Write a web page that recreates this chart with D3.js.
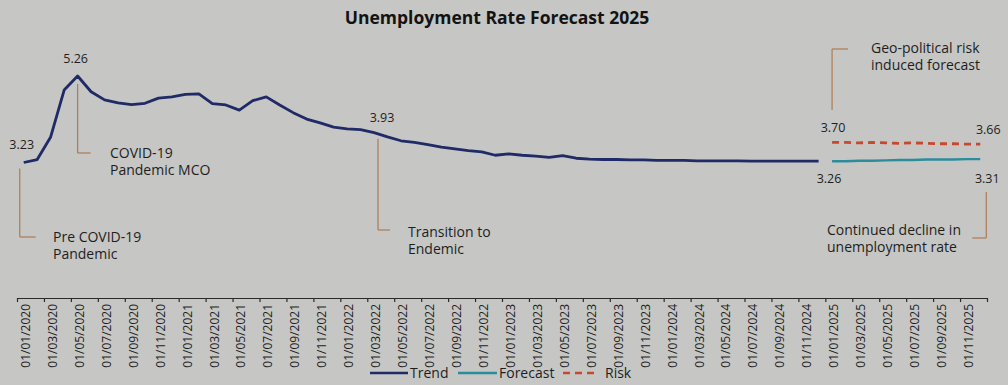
<!DOCTYPE html><html><head>
<title>Unemployment Rate Forecast 2025</title>
<style>
  body { margin:0; background:#c6c6c4; }
  svg { display:block; font-family:"Open Sans", sans-serif; }
  .tittle { font-size:17.5px; font-weight:700; fill:#131313; }
  .note { font-size:14px; fill:#1e1e1e; }
  .val { font-size:12.5px; fill:#1e1e1e; }
  .tick-lab { font-size:12px; fill:#1e1e1e; }
</style>
</head>
<body>
<svg width="1008" height="385"></svg>
<script src="https://d3js.org/d3.v7.min.js"></script>
<script>
// monthly unemployment rate, Jan 2020 - Dec 2024
var trendValues = [3.23, 3.30, 3.83, 4.93, 5.26, 4.89, 4.70, 4.63, 4.59, 4.62, 4.74, 4.77,
                   4.83, 4.84, 4.61, 4.58, 4.46, 4.68, 4.77, 4.58, 4.40, 4.25, 4.16, 4.06,
                   4.02, 4.00, 3.93, 3.83, 3.74, 3.70, 3.65, 3.59, 3.55, 3.51, 3.48, 3.40,
                   3.43, 3.40, 3.38, 3.35, 3.39, 3.33, 3.31, 3.30, 3.30, 3.29, 3.29, 3.28,
                   3.28, 3.28, 3.27, 3.27, 3.27, 3.27, 3.26, 3.26, 3.26, 3.26, 3.26, 3.26];
// Jan 2025 - Dec 2025
var forecastValues = [3.26, 3.26, 3.27, 3.27, 3.28, 3.29, 3.29, 3.30, 3.30, 3.30, 3.31, 3.31];
var riskValues = [3.70, 3.70, 3.69, 3.70, 3.69, 3.68, 3.69, 3.68, 3.67, 3.67, 3.66, 3.66];

var tickLabels = ["01/01/2020","01/03/2020","01/05/2020","01/07/2020","01/09/2020","01/11/2020",
                  "01/01/2021","01/03/2021","01/05/2021","01/07/2021","01/09/2021","01/11/2021",
                  "01/01/2022","01/03/2022","01/05/2022","01/07/2022","01/09/2022","01/11/2022",
                  "01/01/2023","01/03/2023","01/05/2023","01/07/2023","01/09/2023","01/11/2023",
                  "01/01/2024","01/03/2024","01/05/2024","01/07/2024","01/09/2024","01/11/2024",
                  "01/01/2025","01/03/2025","01/05/2025","01/07/2025","01/09/2025","01/11/2025"];

const svg = d3.select("svg");
var nMonths = trendValues.length + forecastValues.length;

var x = d3.scaleBand().domain(d3.range(nMonths)).range([17, 987]);
var xEdge = d3.scaleLinear().domain([0, nMonths]).range([17, 987]);
var y = d3.scaleLinear().domain([3.23, 5.26]).range([162.5, 76]);
function cx(i) { return x(i) + x.bandwidth() / 2; }

var line = d3.line()
  .x(function(d) { return cx(d[0]); })
  .y(function(d) { return y(d[1]); });

var trend = trendValues.map(function(v, i) { return [i, v]; });
var off = trendValues.length;
var forecast = forecastValues.map(function(v, i) { return [i + off, v]; });
var risk = riskValues.map(function(v, i) { return [i + off, v]; });

// title
svg.append("text").attr("class", "tittle")
  .attr("x", 497).attr("y", 24).attr("text-anchor", "middle")
  .text("Unemployment Rate Forecast 2025");

// annotation leader lines
var lead = "#b07b50";
function leader(px, y1, y2, hx, hy) {
  svg.append("line").attr("x1", px).attr("x2", px).attr("y1", y1).attr("y2", y2)
    .attr("stroke", lead).attr("stroke-width", 1.2);
  svg.append("line").attr("x1", px).attr("x2", hx).attr("y1", hy).attr("y2", hy)
    .attr("stroke", lead).attr("stroke-width", 1.2);
}
leader(cx(0) - 4, y(trendValues[0]) + 6, 237, cx(0) + 12, 237);
leader(cx(4), y(trendValues[4]) + 8, 153, cx(4) + 13, 153);
leader(cx(26) + 4, y(trendValues[26]) + 6, 230, cx(26) + 16, 230);
leader(cx(off), 49, 110, cx(off) + 16, 49);
leader(cx(nMonths - 1) + 6, 192, 238, cx(nMonths - 1) - 8, 238);

// lines
svg.append("path").datum(trend)
  .attr("fill", "none").attr("stroke", "#1f2a66").attr("stroke-width", 2.8)
  .attr("stroke-linejoin", "round").attr("d", line);
svg.append("path").datum(forecast)
  .attr("fill", "none").attr("stroke", "#2b8c9c").attr("stroke-width", 2.4)
  .attr("d", line);
svg.append("path").datum(risk)
  .attr("fill", "none").attr("stroke", "#c9472e").attr("stroke-width", 2.8)
  .attr("stroke-dasharray", "7,5").attr("d", line);

// value labels
function val(v, px, py) {
  svg.append("text").attr("class", "val").attr("x", px).attr("y", py)
    .attr("text-anchor", "middle").text(v.toFixed(2));
}
val(trendValues[0], cx(0) - 2, y(trendValues[0]) - 14);
val(trendValues[4], cx(4) - 2, y(trendValues[4]) - 13);
val(trendValues[26], cx(26) + 8, y(trendValues[26]) - 11);
val(riskValues[0], cx(off) + 1, y(riskValues[0]) - 10);
val(riskValues[11], cx(nMonths - 1) + 8, y(riskValues[11]) - 10);
val(forecastValues[0], cx(off) - 3, y(forecastValues[0]) + 22);
val(forecastValues[11], cx(nMonths - 1) + 7, y(forecastValues[11]) + 24);

// notes
function note(lines, px, py) {
  var t = svg.append("text").attr("class", "note").attr("x", px).attr("y", py);
  lines.forEach(function(s, i) {
    t.append("tspan").attr("x", px).attr("dy", i == 0 ? 0 : 17).text(s);
  });
}
note(["Pre COVID-19", "Pandemic"], 53, 242);
note(["COVID-19", "Pandemic MCO"], 110, 158);
note(["Transition to", "Endemic"], 408, 237);
note(["Geo-political risk", "induced forecast"], 871, 53);
note(["Continued decline in", "unemployment rate"], 827, 235);

// x axis
var axisY = 298;
svg.append("g").attr("transform", "translate(0," + axisY + ")")
  .call(d3.axisBottom(xEdge).tickValues(d3.range(0, nMonths + 1, 2)).tickFormat("").tickSize(4).tickSizeOuter(0))
  .call(function(g) { g.selectAll("path,line").attr("stroke", "#2a2a2a").attr("stroke-width", 1.2); });

svg.append("g").selectAll("text")
  .data(tickLabels)
  .enter()
  .append("text")
  .attr("class", "tick-lab")
  .attr("text-anchor", "end")
  .attr("dy", "0.35em")
  .attr("transform", function(d, i) { return "translate(" + (cx(i * 2) + 2) + "," + (axisY + 6) + ") rotate(-90)"; })
  .text(function(d) { return d; });

// legend
var lg = svg.append("g").attr("transform", "translate(0,377)");
var items = [
  {name: "Trend", color: "#1f2a66", dash: null, x0: 370, x1: 408},
  {name: "Forecast", color: "#2b8c9c", dash: null, x0: 458, x1: 497},
  {name: "Risk", color: "#c9472e", dash: "7,5", x0: 563, x1: 599}
];
items.forEach(function(d) {
  lg.append("line").attr("x1", d.x0).attr("x2", d.x1).attr("y1", -4).attr("y2", -4)
    .attr("stroke", d.color).attr("stroke-width", 2.5).attr("stroke-dasharray", d.dash);
  lg.append("text").attr("class", "note").attr("x", d.name == "Risk" ? d.x1 + 6 : d.x1 + 2).attr("y", 1)
    .text(d.name);
});
</script>
</body></html>
